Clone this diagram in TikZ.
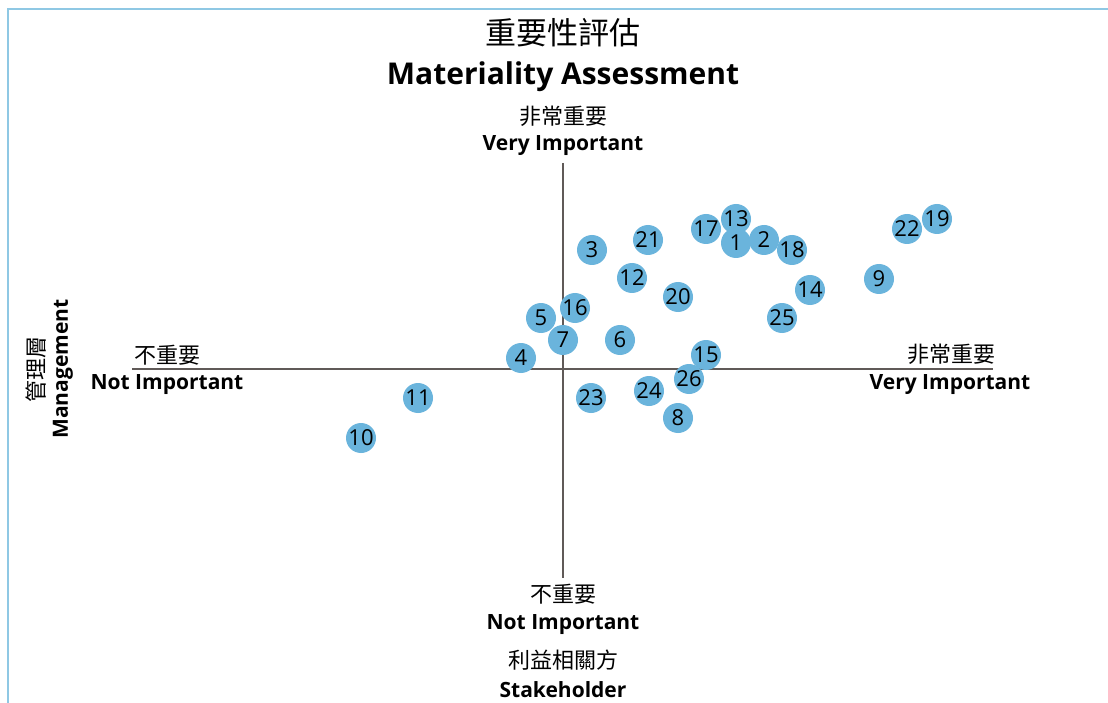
\documentclass[tikz,border=0pt]{standalone}
\usepackage{fontspec}
\setmainfont{Open Sans}
\newfontfamily\cjk{Noto Sans CJK TC}
\definecolor{bordercol}{RGB}{143,200,228}
\definecolor{bubcol}{RGB}{106,180,220}
\definecolor{axiscol}{RGB}{96,90,88}
\tikzset{
  bub/.style={circle,fill=bubcol,minimum size=30pt,inner sep=0pt,font=\fontsize{22}{22}\selectfont,text=black},
  cjklab/.style={inner sep=0pt,font=\cjk\fontsize{22}{22}\selectfont},
  enlab/.style={inner sep=0pt,font=\bfseries\fontsize{21}{21}\selectfont},
  axisline/.style={draw=axiscol,line width=1.3pt}
}
\begin{document}
\begin{tikzpicture}[x=1pt,y=-1pt]
\useasboundingbox (0,0) rectangle (1108,703);
\fill[white] (0,0) rectangle (1108,703);
\draw[bordercol,line width=1.6pt] (8,703) -- (8,9) -- (1108,9);
% titles
\node[inner sep=0pt,font=\cjk\fontsize{31}{31}\selectfont] (t1) at (563,33) {重要性評估};
\node[inner sep=0pt,font=\bfseries\fontsize{30}{30}\selectfont] (t2) at (563,77) {Materiality Assessment};
% axes
\coordinate (top) at (563,163);
\coordinate (bot) at (563,578);
\coordinate (lft) at (132,369);
\coordinate (rgt) at (993,369);
\draw[axisline] (top) -- (bot);
\draw[axisline] (lft) -- (rgt);
% axis labels
\node[cjklab] (tc) at (563,116) {非常重要};
\node[enlab] (te) at (563,146) {Very Important};
\node[cjklab] (bc) at (563,594) {不重要};
\node[enlab] (be) at (563,625) {Not Important};
\node[cjklab] (sc) at (563,660) {利益相關方};
\node[enlab] (se) at (563,690) {Stakeholder};
\node[cjklab] (lc) at (167,355) {不重要};
\node[enlab] (le) at (167,385) {Not Important};
\node[cjklab] (rc) at (951,354) {非常重要};
\node[enlab] (re) at (950,385) {Very Important};
\node[cjklab,rotate=90] (mc) at (36,369) {管理層};
\node[enlab,rotate=90] (me) at (63,369) {Management};
% bubbles
\node[bub] (n13) at (736,219) {13};
\node[bub] (n1) at (736,243) {1};
\node[bub] (n2) at (764,240) {2};
\node[bub] (n3) at (592,250) {3};
\node[bub] (n4) at (521,358) {4};
\node[bub] (n5) at (541,318) {5};
\node[bub] (n6) at (620,340) {6};
\node[bub] (n7) at (563,340) {7};
\node[bub] (n8) at (678,418) {8};
\node[bub] (n9) at (879,279) {9};
\node[bub] (n10) at (361,438) {10};
\node[bub] (n11) at (418,398) {11};
\node[bub] (n12) at (632,278) {12};
\node[bub] (n14) at (810,290) {14};
\node[bub] (n15) at (706,355) {15};
\node[bub] (n16) at (575,308) {16};
\node[bub] (n17) at (706,229) {17};
\node[bub] (n18) at (792,250) {18};
\node[bub] (n19) at (937,219) {19};
\node[bub] (n20) at (678,297) {20};
\node[bub] (n21) at (648,240) {21};
\node[bub] (n22) at (907,229) {22};
\node[bub] (n23) at (591,398) {23};
\node[bub] (n24) at (649,391) {24};
\node[bub] (n25) at (782,318) {25};
\node[bub] (n26) at (689,379) {26};
\end{tikzpicture}
\end{document}
